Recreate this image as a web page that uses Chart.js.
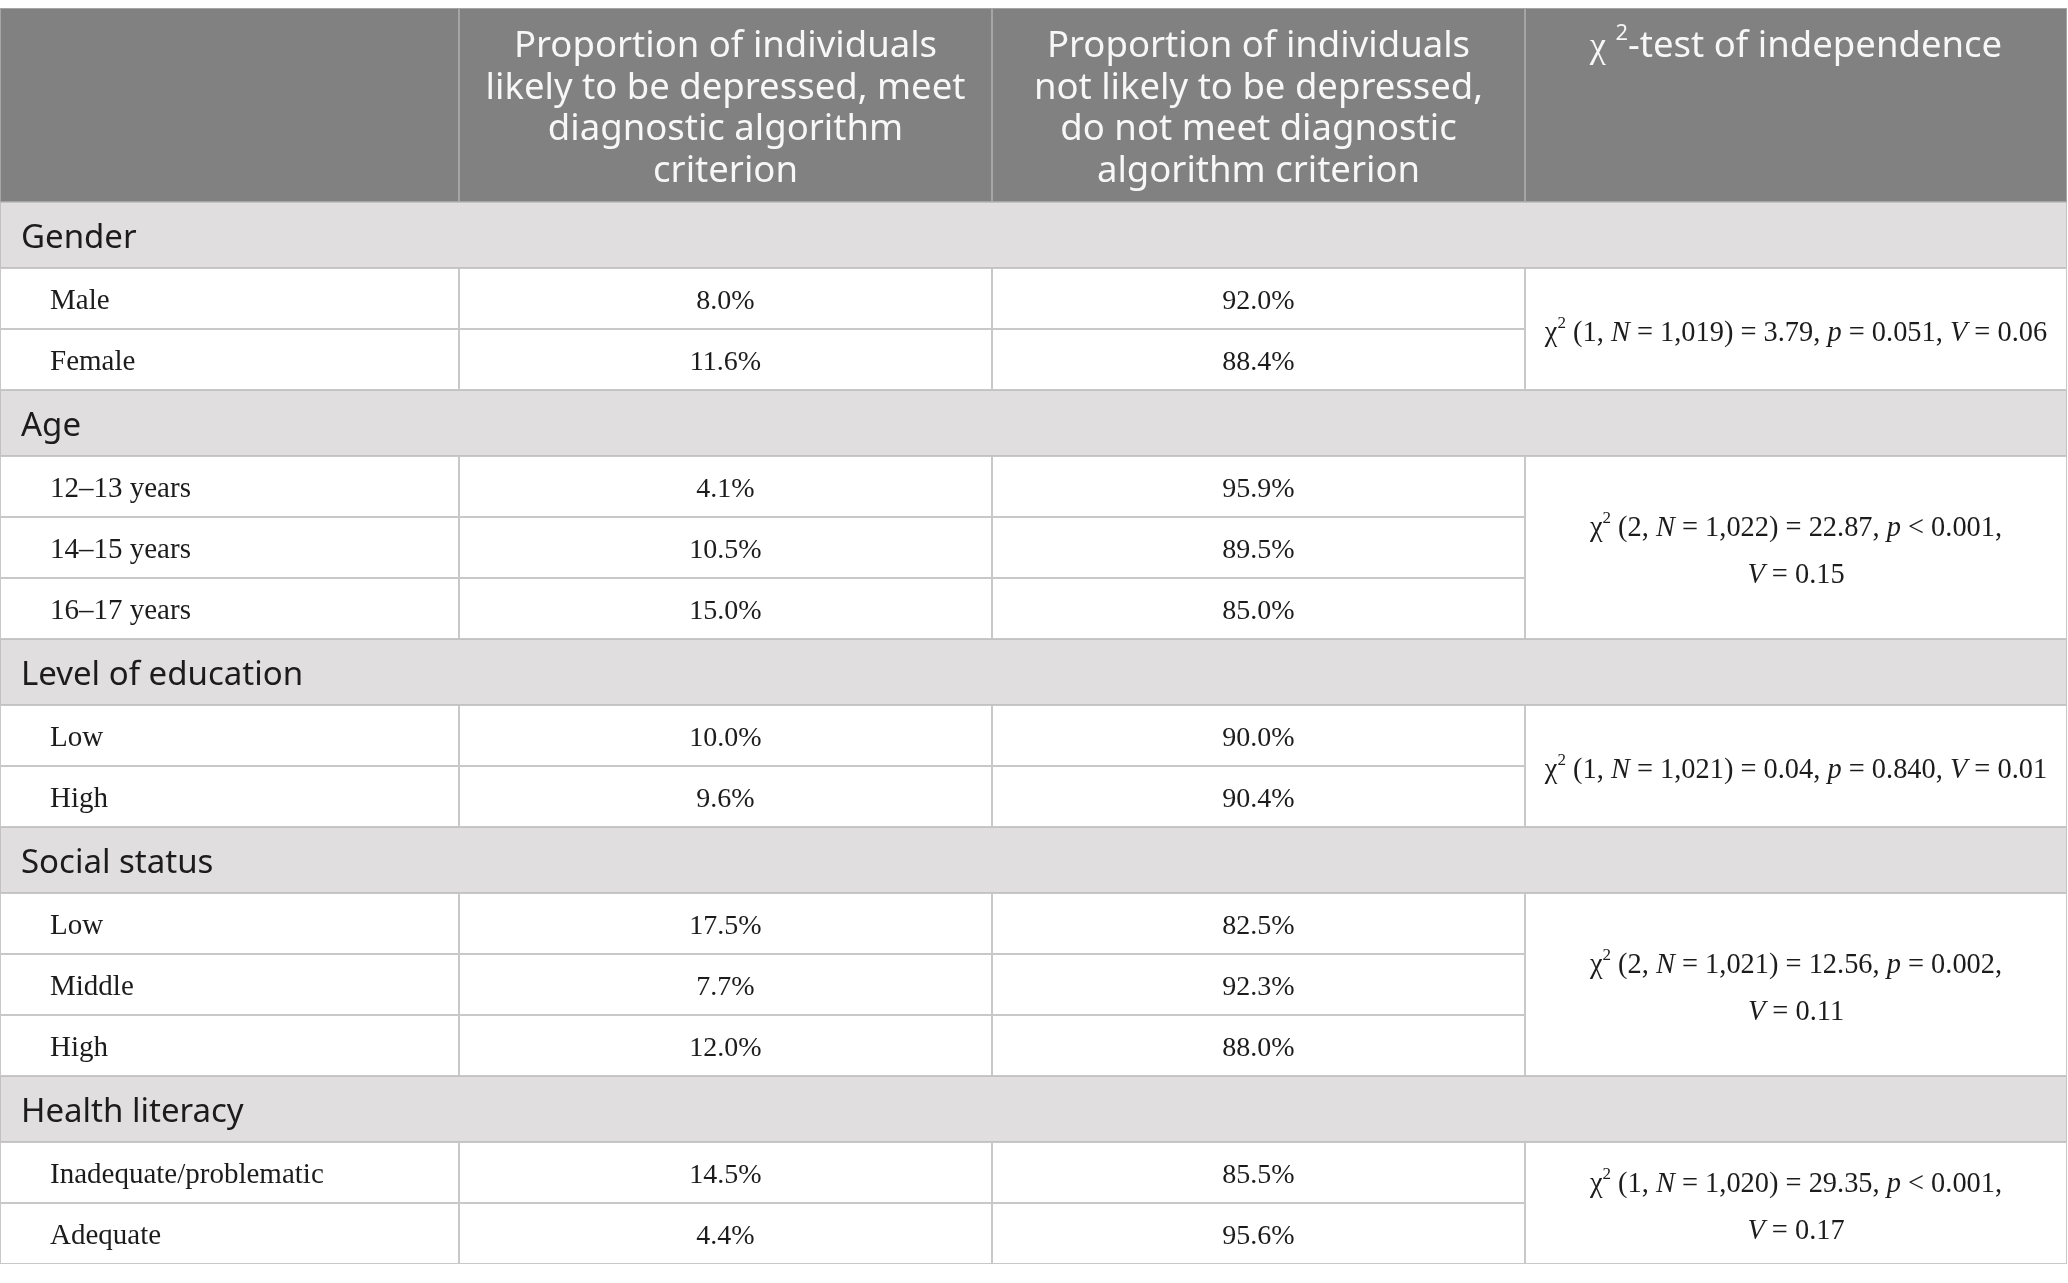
<!DOCTYPE html>
<html>
<head>
<meta charset="utf-8">
<script src="https://cdn.jsdelivr.net/npm/chart.js@4.4.1/dist/chart.umd.min.js"></script>
<style>
  html, body { margin: 0; padding: 0; background: #fff; }
  canvas { display: block; }
</style>
</head>
<body>
<canvas id="table" width="2068" height="1283"></canvas>
<script>
// ---- table content ----
const columnHeaders = [
  [],
  ['Proportion of individuals', 'likely to be depressed, meet', 'diagnostic algorithm', 'criterion'],
  ['Proportion of individuals', 'not likely to be depressed,', 'do not meet diagnostic', 'algorithm criterion'],
  ['χ ^2-test of independence']
];
const groups = ['Gender', 'Age', 'Level of education', 'Social status', 'Health literacy'];
const categories = [
  ['Male', 'Female'],
  ['12–13 years', '14–15 years', '16–17 years'],
  ['Low', 'High'],
  ['Low', 'Middle', 'High'],
  ['Inadequate/problematic', 'Adequate']
];
const depressed = [[8.0, 11.6], [4.1, 10.5, 15.0], [10.0, 9.6], [17.5, 7.7, 12.0], [14.5, 4.4]];
const notDepressed = [[92.0, 88.4], [95.9, 89.5, 85.0], [90.0, 90.4], [82.5, 92.3, 88.0], [85.5, 95.6]];
// _x_ = italic, ^x = superscript
const chiTests = [
  ['χ^2 (1, _N_ = 1,019) = 3.79, _p_ = 0.051, _V_ = 0.06'],
  ['χ^2 (2, _N_ = 1,022) = 22.87, _p_ < 0.001,', '_V_ = 0.15'],
  ['χ^2 (1, _N_ = 1,021) = 0.04, _p_ = 0.840, _V_ = 0.01'],
  ['χ^2 (2, _N_ = 1,021) = 12.56, _p_ = 0.002,', '_V_ = 0.11'],
  ['χ^2 (1, _N_ = 1,020) = 29.35, _p_ < 0.001,', '_V_ = 0.17']
];

// ---- layout ----
const W = 2068, H = 1283;
const TOP = 8, HEAD_H = 194, GROUP_H = 66, ROW_H = 61;
const colEdges = [0, 459, 992, 1525, 2067];
const SANS = '"Noto Sans", "Open Sans", sans-serif';
const SERIF = '"Liberation Serif", "DejaVu Serif", serif';
const headFont = { family: SANS, size: 36.5, color: '#f7f7f7' };
const groupFont = { family: SANS, size: 33, color: '#1c1c1c' };
const labelFont = { family: SERIF, size: 29, color: '#1c1c1c' };
const numFont = { family: SERIF, size: 28, color: '#1c1c1c' };
const chiFont = { family: SERIF, size: 28.4, color: '#1c1c1c' };

const cell = (c0, c1, y) => ({ x: [colEdges[c0], colEdges[c1]], y });
const mid = c => (colEdges[c] + colEdges[c + 1]) / 2;

const headerCells = [], groupCells = [], dataCells = [], span2Cells = [], span3Cells = [];
const texts = [];

for (let c = 0; c < 4; c++) {
  headerCells.push(cell(c, c + 1, TOP + HEAD_H / 2));
  columnHeaders[c].forEach((line, i) => {
    texts.push({ str: line, x: mid(c), y: TOP + 39 + i * 41.5, align: 'center', font: headFont });
  });
}

let cursor = TOP + HEAD_H;
groups.forEach((g, gi) => {
  groupCells.push(cell(0, 4, cursor + GROUP_H / 2));
  texts.push({ str: g, x: colEdges[0] + 21, y: cursor + GROUP_H / 2 + 4, align: 'left', font: groupFont });
  cursor += GROUP_H;
  const start = cursor;
  categories[gi].forEach((cat, ri) => {
    const yc = cursor + ROW_H / 2;
    for (let c = 0; c < 3; c++) dataCells.push(cell(c, c + 1, yc));
    texts.push({ str: cat, x: colEdges[0] + 50, y: yc + 3, align: 'left', font: labelFont });
    texts.push({ str: depressed[gi][ri].toFixed(1) + '%', x: mid(1), y: yc + 3, align: 'center', font: numFont });
    texts.push({ str: notDepressed[gi][ri].toFixed(1) + '%', x: mid(2), y: yc + 3, align: 'center', font: numFont });
    cursor += ROW_H;
  });
  const n = categories[gi].length;
  const spanMid = start + n * ROW_H / 2;
  (n === 2 ? span2Cells : span3Cells).push(cell(3, 4, spanMid));
  const lines = chiTests[gi];
  lines.forEach((line, i) => {
    texts.push({ str: line, x: mid(3), y: spanMid + 5 + (i - (lines.length - 1) / 2) * 47, align: 'center', font: chiFont });
  });
});

// ---- rich text helpers ----
function parseRuns(str) {
  const runs = [];
  let italic = false, buf = '';
  const flush = () => { if (buf) runs.push({ text: buf, italic }); buf = ''; };
  for (let i = 0; i < str.length; i++) {
    const ch = str[i];
    if (ch === '_') { flush(); italic = !italic; }
    else if (ch === '^') { flush(); runs.push({ text: str[++i], italic, sup: true }); }
    else if (ch === 'χ') { flush(); runs.push({ text: ch, italic, greek: true }); }
    else buf += ch;
  }
  flush();
  return runs;
}

function runFont(run, f) {
  const size = run.sup ? f.size * 0.6 : f.size;
  const fam = run.greek ? SERIF : f.family;
  return (run.italic ? 'italic ' : '') + size + 'px ' + fam;
}

const cellText = {
  id: 'cellText',
  afterDatasetsDraw(chart) {
    const { ctx, scales } = chart;
    ctx.save();
    ctx.textBaseline = 'middle';
    ctx.textAlign = 'left';
    texts.forEach(t => {
      const runs = parseRuns(t.str);
      let total = 0;
      runs.forEach(r => {
        ctx.font = runFont(r, t.font);
        r.w = ctx.measureText(r.text).width;
        total += r.w;
      });
      let px = scales.x.getPixelForValue(t.x);
      if (t.align === 'center') px -= total / 2;
      const py = scales.y.getPixelForValue(t.y);
      ctx.fillStyle = t.font.color;
      runs.forEach(r => {
        ctx.font = runFont(r, t.font);
        ctx.fillText(r.text, px, r.sup ? py - t.font.size * 0.36 : py);
        px += r.w;
      });
    });
    ctx.restore();
  }
};

const base = { borderWidth: 1, borderSkipped: false, inflateAmount: 0, stack: 'cells' };

new Chart(document.getElementById('table'), {
  type: 'bar',
  data: {
    datasets: [
      { ...base, data: headerCells, barThickness: HEAD_H, backgroundColor: '#808180', borderColor: '#a4a5a4' },
      { ...base, data: groupCells, barThickness: GROUP_H, backgroundColor: '#e0dedf', borderColor: '#c2c2c2' },
      { ...base, data: dataCells, barThickness: ROW_H, backgroundColor: '#ffffff', borderColor: '#c8c8c8' },
      { ...base, data: span2Cells, barThickness: ROW_H * 2, backgroundColor: '#ffffff', borderColor: '#c8c8c8' },
      { ...base, data: span3Cells, barThickness: ROW_H * 3, backgroundColor: '#ffffff', borderColor: '#c8c8c8' }
    ]
  },
  options: {
    indexAxis: 'y',
    responsive: false,
    maintainAspectRatio: false,
    devicePixelRatio: 1,
    animation: false,
    events: [],
    layout: { padding: 0 },
    scales: {
      x: { type: 'linear', min: 0, max: W, stacked: false, offset: false, display: false },
      y: { type: 'linear', min: 0, max: H, reverse: true, offset: false, display: false }
    },
    plugins: { legend: { display: false }, tooltip: { enabled: false } }
  },
  plugins: [cellText]
});
</script>
</body>
</html>
